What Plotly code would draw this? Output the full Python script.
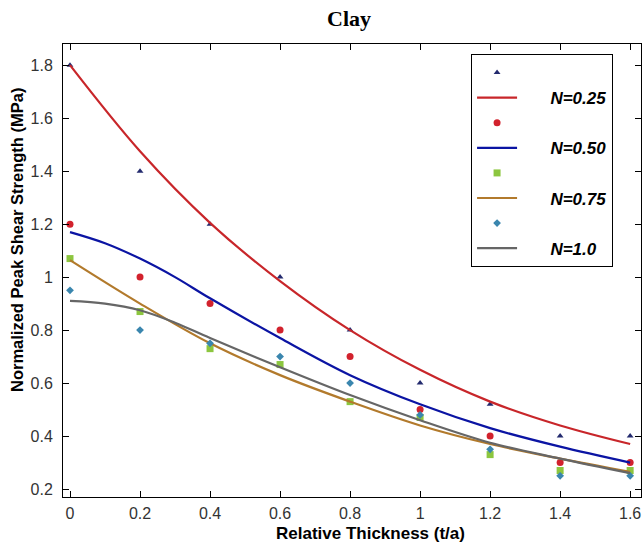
import plotly.graph_objects as go

x_pts = [0, 0.2, 0.4, 0.6, 0.8, 1.0, 1.2, 1.4, 1.6]
n025_pts = [1.80, 1.40, 1.20, 1.00, 0.80, 0.60, 0.52, 0.40, 0.40]
n050_pts = [1.20, 1.00, 0.90, 0.80, 0.70, 0.50, 0.40, 0.30, 0.30]
n075_pts = [1.07, 0.87, 0.73, 0.67, 0.53, 0.47, 0.33, 0.27, 0.27]
n100_pts = [0.95, 0.80, 0.75, 0.70, 0.60, 0.48, 0.35, 0.25, 0.25]

x_fit = [0, 0.2, 0.4, 0.6, 0.8, 1.0, 1.2, 1.4, 1.6]
x_fit_fine = [0, 0.1, 0.2, 0.3, 0.4, 0.6, 0.8, 1.0, 1.2, 1.4, 1.6]
n025_fit = [1.80, 1.475, 1.205, 0.985, 0.80, 0.65, 0.53, 0.44, 0.37]
n050_fit = [1.17, 1.128, 1.07, 1.0, 0.92, 0.77, 0.63, 0.52, 0.43, 0.36, 0.30]
n075_fit = [1.064, 0.90, 0.75, 0.63, 0.53, 0.44, 0.37, 0.315, 0.265]
n100_fit = [0.91, 0.90, 0.875, 0.828, 0.77, 0.66, 0.555, 0.46, 0.375, 0.315, 0.26]

names = ["N=0.25", "N=0.50", "N=0.75", "N=1.0"]
tick_vals_x = [0, 0.2, 0.4, 0.6, 0.8, 1, 1.2, 1.4, 1.6]
tick_vals_y = [0.2, 0.4, 0.6, 0.8, 1, 1.2, 1.4, 1.6, 1.8]

fig = go.Figure()
series = [
    (n025_pts, x_fit, n025_fit, "triangle-up", "#232a6e", 6, "#c8262a"),
    (n050_pts, x_fit_fine, n050_fit, "circle", "#d2222d", 7, "#0b14a3"),
    (n075_pts, x_fit, n075_fit, "square", "#8cc63f", 7, "#b27a2c"),
    (n100_pts, x_fit_fine, n100_fit, "diamond", "#3a86ae", 6, "#666666"),
]
pad = "\u00a0" * 6
for (pts, fx, fit, sym, mcol, msz, lcol), nm in zip(series, names):
    fig.add_trace(go.Scatter(x=x_pts, y=pts, mode="markers", name=" ",
                             marker=dict(symbol=sym, color=mcol, size=msz)))
    fig.add_trace(go.Scatter(x=fx, y=fit, mode="lines", name=pad + "<b><i>" + nm + "</i></b>",
                             line=dict(color=lcol, width=2.2, shape="spline", smoothing=1.0)))

axis_common = dict(showgrid=False, zeroline=False, showline=True, linecolor="black",
                   linewidth=1, mirror="ticks", ticks="inside", ticklen=6, tickcolor="black",
                   tickfont=dict(family="Arial, Liberation Sans", size=16, color="#333333"))

fig.update_layout(
    width=644, height=547,
    margin=dict(l=63, r=3, t=44, b=50),
    paper_bgcolor="white", plot_bgcolor="white",
    title=dict(text="<b>Clay</b>", x=0.542, xanchor="center", y=0.967, yanchor="middle",
               font=dict(family="Liberation Serif, Times New Roman", size=22, color="black")),
    xaxis=dict(range=[-0.02, 1.631], tickvals=tick_vals_x, ticklabelstandoff=2, **axis_common),
    yaxis=dict(range=[0.17, 1.88], tickvals=tick_vals_y, ticklabelstandoff=6, **axis_common),
    annotations=[
        dict(text="<b>Relative Thickness (t/a)</b>", xref="paper", yref="paper",
             x=(370 - 63) / 578, y=-(533 - 497) / 453, xanchor="center", yanchor="middle",
             showarrow=False, font=dict(family="Arial, Liberation Sans", size=17, color="black")),
        dict(text="<b>Normalized Peak Shear Strength (MPa)</b>", xref="paper", yref="paper",
             x=-(63 - 17) / 578, y=(497 - 240) / 453, xanchor="center", yanchor="middle",
             textangle=-90, showarrow=False,
             font=dict(family="Arial, Liberation Sans", size=16.5, color="black")),
    ],
    legend=dict(x=0.706, y=0.978, xanchor="left", yanchor="top",
                bordercolor="black", borderwidth=1, bgcolor="white",
                font=dict(family="Arial, Liberation Sans", size=17, color="black"),
                tracegroupgap=0, itemwidth=40),
    showlegend=True,
)

fig.write_html("out.html")
